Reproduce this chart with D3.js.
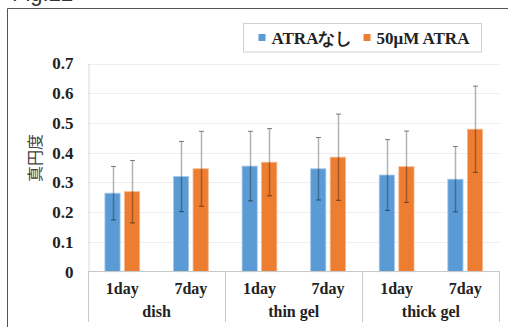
<!DOCTYPE html>
<html><head><meta charset="utf-8">
<script src="https://cdn.jsdelivr.net/npm/d3@7"></script>
<style>
html,body{margin:0;padding:0;background:#fff;}
svg{display:block;}
.serif{font-family:"Liberation Serif","DejaVu Serif",serif;font-weight:bold;}
.jp{font-family:"Noto Sans CJK JP",sans-serif;}
.cap{font-family:"Liberation Sans",sans-serif;}
</style>
</head><body>
<svg id="c" width="508" height="327"></svg>
<script>
const days = ["1day","7day","1day","7day","1day","7day"];
const groups = ["dish","thin gel","thick gel"];
const seriesNames = ["ATRAなし","50μM ATRA"];
const seriesColors = ["#5B9BD5","#ED7D31"];
const seriesStroke = ["#a9c9ea","#f5b58c"];
const blueVals = [0.264, 0.320, 0.355, 0.346, 0.325, 0.311];
const blueErr  = [0.090, 0.118, 0.117, 0.105, 0.119, 0.110];
const orangeVals = [0.269, 0.346, 0.368, 0.385, 0.353, 0.479];
const orangeErr  = [0.105, 0.126, 0.113, 0.145, 0.120, 0.145];
const yTicks = [0,0.1,0.2,0.3,0.4,0.5,0.6,0.7];
const yTickLabels = ["0","0.1","0.2","0.3","0.4","0.5","0.6","0.7"];

const svg = d3.select("#c");

// outer frame (cut by the picture edges)
svg.append("path").attr("d","M7.5,330 V8.5 H510").attr("fill","none").attr("stroke","#555").attr("stroke-width",1);
// caption partially visible at the top edge
svg.append("text").attr("class","cap").attr("x",12).attr("y",1)
  .attr("font-size",22).attr("fill","#333").text("Fig.22");

const idx = d3.range(days.length);
const x = d3.scaleBand().domain(idx).range([88, 499.5]).padding(0);
const groupW = x.bandwidth()*0.507;
const xs = d3.scaleBand().domain([0,1]).range([0, groupW]).paddingInner(0.224);
const y = d3.scaleLinear().domain([0,0.7]).range([271.7, 63.5]);

// gridlines
svg.append("g").selectAll("line").data(yTicks.slice(1)).join("line")
  .attr("x1",88).attr("x2",499.5)
  .attr("y1",d=>Math.round(y(d))+0.5).attr("y2",d=>Math.round(y(d))+0.5)
  .attr("stroke","#eeeeee").attr("stroke-width",1);

// y axis
const yAxis = d3.axisLeft(y).tickValues(yTicks).tickFormat((d,i)=>yTickLabels[i]).tickSize(0).tickPadding(15);
const yg = svg.append("g").attr("transform","translate(88.5,0)").call(yAxis);
yg.attr("font-family",null).attr("font-size",null);
yg.select(".domain").attr("stroke","#d9d9d9");
yg.selectAll("text").attr("class","serif").attr("font-size",17).attr("fill","#222");

// y title
svg.append("text").attr("class","jp").attr("transform","translate(41,158) rotate(-90)")
  .attr("text-anchor","middle").attr("font-size",16).attr("fill","#404040")
  .style("opacity",0.99).text("真円度");

// bars
const data = [];
idx.forEach(i=>{
  data.push({i, s:0, v:blueVals[i], e:blueErr[i]});
  data.push({i, s:1, v:orangeVals[i], e:orangeErr[i]});
});
const barX = d => x(d.i) + (x.bandwidth()-groupW)/2 + xs(d.s);
svg.append("g").selectAll("rect").data(data).join("rect")
  .attr("x",d=>barX(d)).attr("width",xs.bandwidth())
  .attr("y",d=>y(d.v)).attr("height",d=>y(0)-y(d.v))
  .attr("fill",d=>seriesColors[d.s]).attr("stroke",d=>seriesStroke[d.s]).attr("stroke-width",0.8);

// error bars
const eg = svg.append("g");
data.forEach(d=>{
  const cx = Math.round(barX(d)+xs.bandwidth()/2)+0.5;
  eg.append("line").attr("x1",cx).attr("x2",cx).attr("y1",y(d.v+d.e)).attr("y2",y(d.v-d.e))
    .attr("stroke","#000").attr("stroke-opacity",0.3).attr("stroke-width",1.5);
  [d.v+d.e, d.v-d.e].forEach(v=>{
    eg.append("line").attr("x1",cx-2.5).attr("x2",cx+2.5).attr("y1",y(v)).attr("y2",y(v))
      .attr("stroke","#000").attr("stroke-opacity",0.5).attr("stroke-width",1);
  });
});

// category axis
const ag = svg.append("g").attr("stroke","#c8c8c8").attr("stroke-width",1);
ag.append("line").attr("x1",88).attr("x2",499.5).attr("y1",271.5).attr("y2",271.5);
[0,2,4,6].forEach(k=>{
  const xx = Math.round(k<6 ? x(k) : x(5)+x.bandwidth())+0.5;
  ag.append("line").attr("x1",xx).attr("x2",xx).attr("y1",271.5).attr("y2",322);
});
svg.append("g").selectAll("text").data(idx).join("text").attr("class","serif")
  .attr("x",i=>x(i)+x.bandwidth()/2).attr("y",294)
  .attr("text-anchor","middle").attr("font-size",16).attr("fill","#222").text(i=>days[i]);
svg.append("g").selectAll("text").data(groups).join("text").attr("class","serif")
  .attr("x",(g,k)=>x(2*k+1)).attr("y",317)
  .attr("text-anchor","middle").attr("font-size",16).attr("fill","#222").text(g=>g);

// legend
const lg = svg.append("g");
lg.append("rect").attr("x",243.5).attr("y",23.5).attr("width",238).attr("height",28.5)
  .attr("fill","#fff").attr("stroke","#d0d0d0").attr("stroke-width",1);
const legX = [258.5, 363.5];
seriesNames.forEach((n,k)=>{
  lg.append("rect").attr("x",legX[k]).attr("y",34).attr("width",7).attr("height",7).attr("fill",seriesColors[k]);
  lg.append("text").attr("class","serif").attr("x",legX[k]+13).attr("y",43.5)
    .attr("font-size",17).attr("fill","#222").text(n);
});
</script>
</body></html>
